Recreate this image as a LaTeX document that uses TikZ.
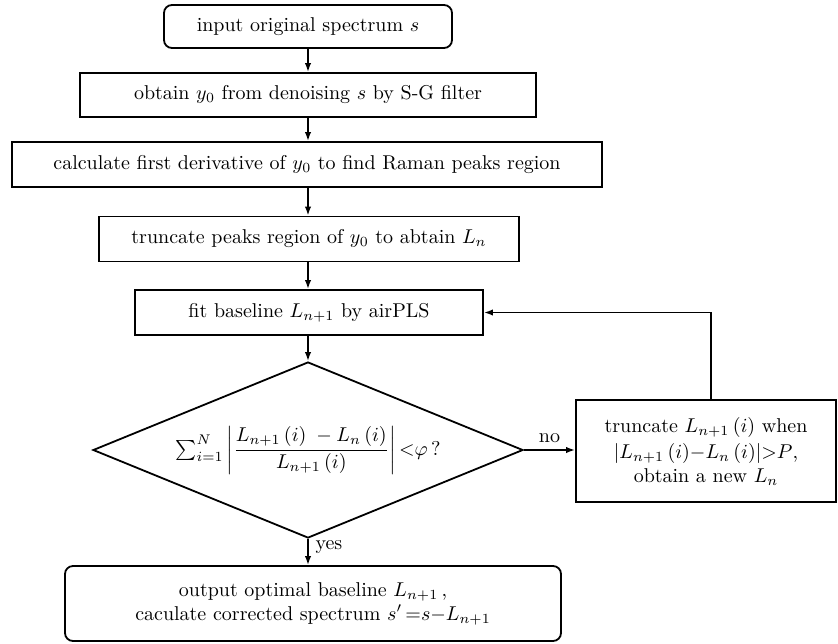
\documentclass[tikz,border=0pt]{standalone}
\usepackage{amsmath}
\usetikzlibrary{shapes.geometric,arrows.meta}
\begin{document}
\begin{tikzpicture}[x=0.5pt,y=-0.5pt,
  box/.style={draw,line width=0.9pt,inner sep=0pt,align=center},
  endbox/.style={box,rounded corners=4pt},
  flow/.style={-{Latex[length=4.5pt,width=3.2pt]},line width=0.9pt}]
\useasboundingbox (0,0) rectangle (838,643);
\node[endbox,minimum width=144pt,minimum height=21.5pt] (in) at (308,26.5) {input original spectrum $s$};
\node[box,minimum width=228pt,minimum height=22pt] (denoise) at (308,95) {obtain $y_0$ from denoising $s$ by S-G filter};
\node[box,minimum width=295pt,minimum height=22.5pt] (deriv) at (307,164.5) {calculate first derivative of $y_0$ to find Raman peaks region};
\node[box,minimum width=210pt,minimum height=22.5pt] (peaks) at (309,239) {truncate peaks region of $y_0$ to abtain $L_n$};
\node[box,minimum width=174pt,minimum height=22.5pt] (fit) at (309,312.5) {fit baseline $L_{n+1}$ by airPLS};
\node[box,diamond,shape aspect=2.44,minimum width=215pt,minimum height=88pt] (check) at (308,450) {$\textstyle\sum_{i=1}^{N}\left|\dfrac{L_{n+1}\,(i)\;-L_n\,(i)}{L_{n+1}\,(i)}\right|{<}\varphi$\,?};
\node[box,minimum width=130pt,minimum height=51pt] (trunc) at (706,451) {truncate $L_{n+1}\,(i)$ when\\[1pt] $|L_{n+1}\,(i){-}L_n\,(i)|{>}P$,\\ obtain a new $L_n$};
\node[endbox,minimum width=248pt,minimum height=37.5pt] (out) at (313,603.5) {output optimal baseline $L_{n+1}$\,,\\ caculate corrected spectrum $s'\,{=}s{-}L_{n+1}$};
\draw[flow] (in.south -| check) -- (denoise.north -| check);
\draw[flow] (denoise.south -| check) -- (deriv.north -| check);
\draw[flow] (deriv.south -| check) -- (peaks.north -| check);
\draw[flow] (peaks.south -| check) -- (fit.north -| check);
\draw[flow] (fit.south -| check) -- (check);
\draw[flow] (check.east) -- node[above] (no) {no} (trunc.west |- check.east);
\draw[flow] ([xshift=2.5pt]trunc.north) |- (fit.east);
\draw[flow] (check.south) -- node[right,pos=0.3] (yes) {yes} (out.north -| check.south);
\end{tikzpicture}
\end{document}
